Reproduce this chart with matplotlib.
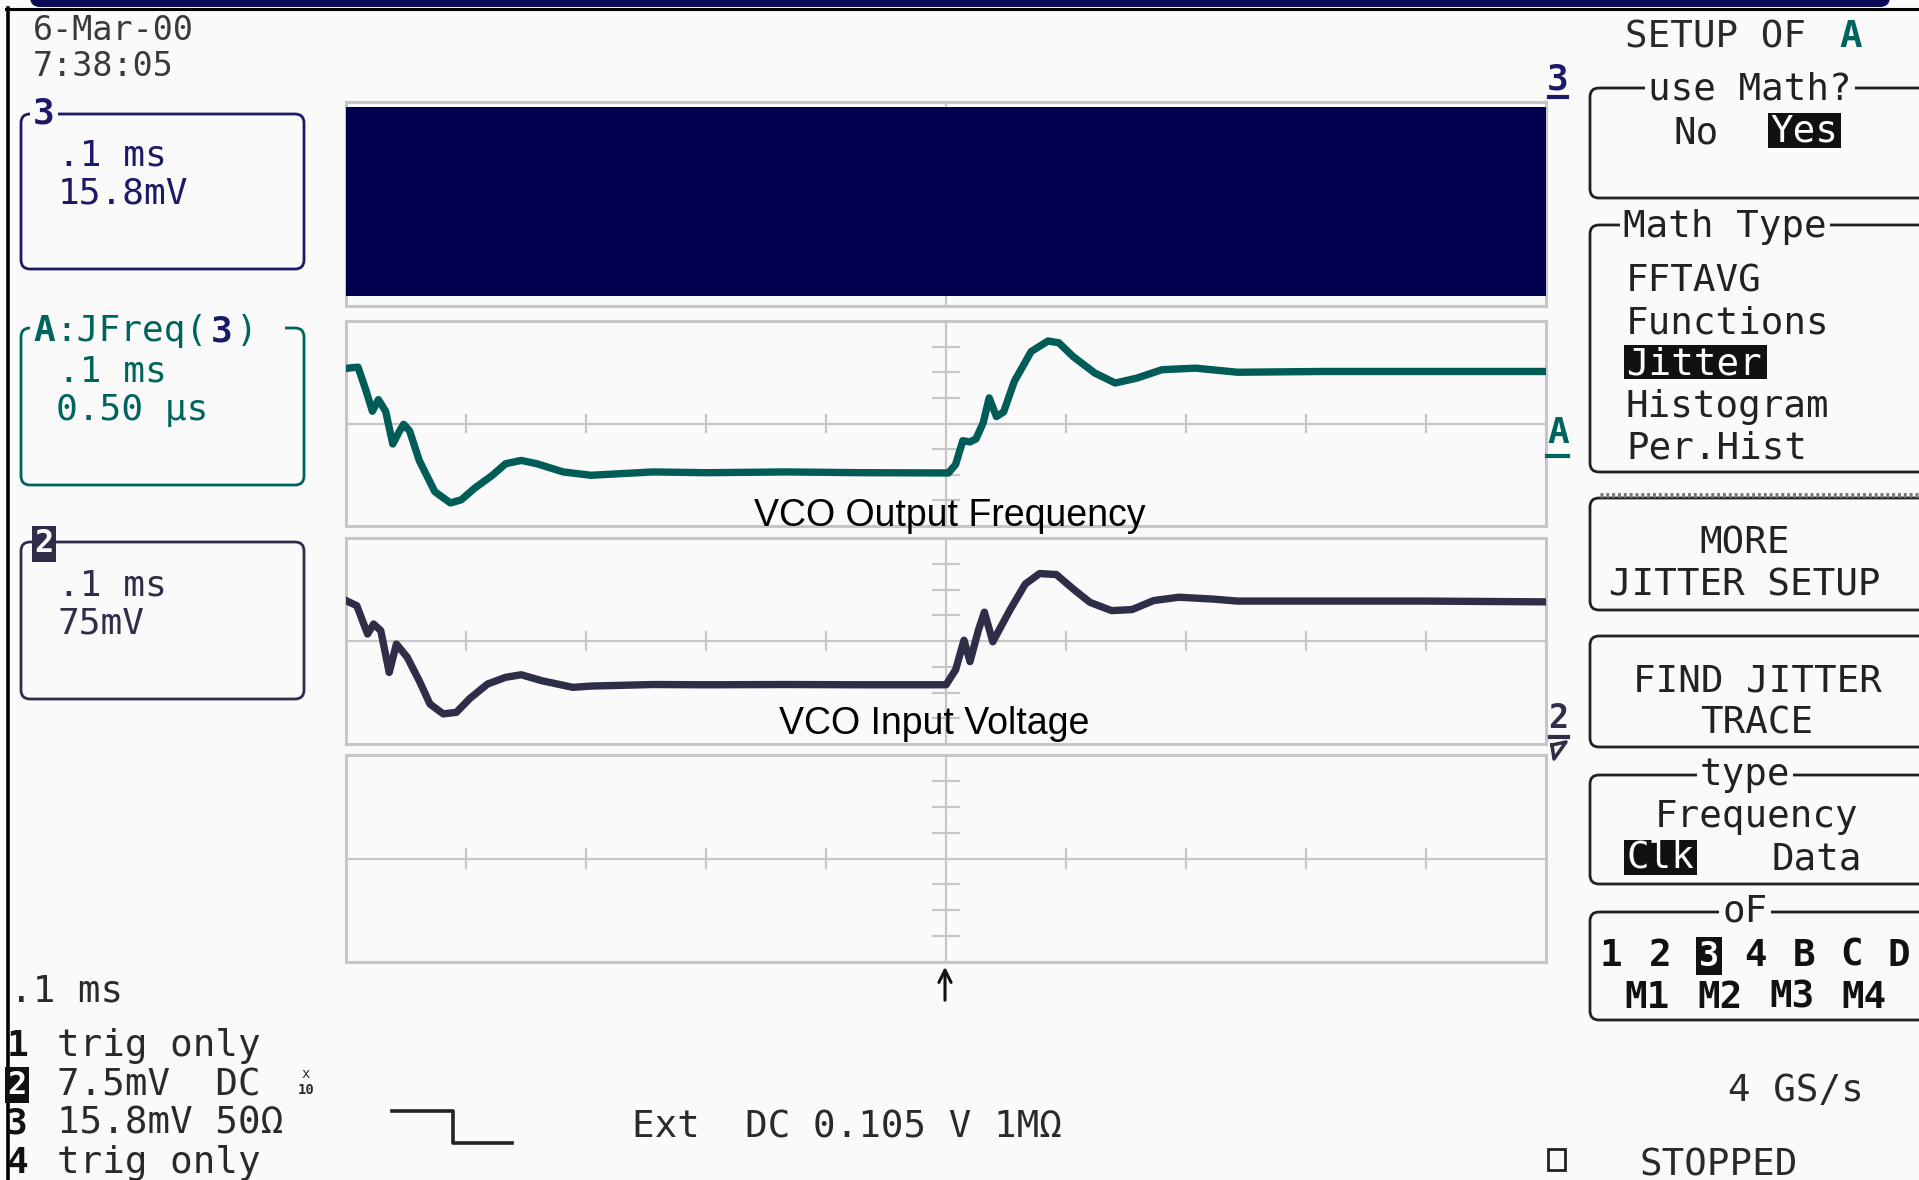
import matplotlib
matplotlib.use('Agg')
import matplotlib.pyplot as plt
from matplotlib.patches import FancyBboxPatch, Rectangle

# ---------------- data (screen divisions: x 0..10, y -4..4) ----------------
band_x = [0.0, 10.0]
band_top = [3.8, 3.8]
band_bottom = [-3.6, -3.6]

freq_x = [0.0, 0.1, 0.16, 0.22, 0.27, 0.33, 0.39, 0.44, 0.48, 0.53, 0.61, 0.74,
          0.87, 0.96, 1.07, 1.22, 1.33, 1.46, 1.59, 1.81, 2.04, 2.56, 3.0, 3.67,
          4.3, 5.02, 5.08, 5.14, 5.2, 5.25, 5.31, 5.36, 5.42, 5.48, 5.57, 5.71,
          5.85, 5.94, 6.06, 6.24, 6.41, 6.59, 6.8, 7.08, 7.43, 8.13, 9.0, 9.97]
freq_y = [2.15, 2.2, 1.38, 0.48, 0.93, 0.48, -0.8, -0.35, -0.03, -0.29, -1.44,
          -2.66, -3.1, -2.98, -2.53, -2.02, -1.57, -1.44, -1.57, -1.89, -2.02,
          -1.89, -1.92, -1.89, -1.92, -1.93, -1.6, -0.67, -0.72, -0.6, 0.03, 1.0,
          0.27, 0.45, 1.65, 2.81, 3.22, 3.15, 2.61, 1.97, 1.58, 1.77, 2.1, 2.16,
          2.0, 2.03, 2.03, 2.03]

volt_x = [0.0, 0.09, 0.18, 0.23, 0.29, 0.36, 0.42, 0.51, 0.61, 0.70, 0.81, 0.92,
          1.03, 1.18, 1.33, 1.46, 1.63, 1.89, 2.04, 2.56, 3.0, 3.67, 4.3, 5.0,
          5.08, 5.15, 5.2, 5.27, 5.32, 5.39, 5.53, 5.66, 5.78, 5.92, 6.06, 6.2,
          6.38, 6.55, 6.73, 6.94, 7.22, 7.43, 8.13, 9.0, 9.99]
volt_y = [1.57, 1.37, 0.27, 0.66, 0.4, -1.22, -0.12, -0.63, -1.54, -2.45, -2.83,
          -2.77, -2.24, -1.67, -1.41, -1.31, -1.54, -1.8, -1.75, -1.69, -1.7,
          -1.69, -1.7, -1.7, -1.12, 0.03, -0.8, 0.42, 1.12, -0.03, 1.18, 2.21,
          2.62, 2.58, 2.02, 1.5, 1.18, 1.22, 1.57, 1.7, 1.63, 1.55, 1.55, 1.55, 1.52]

h_ticks = [1, 2, 3, 4, 6, 7, 8, 9]
v_ticks = [-3, -2, -1, 1, 2, 3]

menu_math_type = ['FFTAVG', 'Functions', 'Jitter', 'Histogram', 'Per.Hist']
source_row1 = ['1', '2', '3', '4', 'B', 'C', 'D']
source_row2 = ['M1', 'M2', 'M3', 'M4']
channel_lines = [('1', 'trig only'), ('2', '7.5mV  DC'), ('3', '15.8mV 50Ω'), ('4', 'trig only')]

# ---------------- style ----------------
W, H = 1919, 1180
BG = '#fafafa'
GRID = '#c6c6c6'
NAVY = '#1a1a66'
TEAL = '#00645e'
TEAL_TRACE = '#005c57'
SLATE = '#2e2e48'
BAND = '#00004f'
INK = '#222222'
MONO = 'DejaVu Sans Mono'
SANS = 'Liberation Sans'
MS = 27   # menu / status font size
BS = 26   # left box font size
DY = 3    # vertical text nudge (px)

fig = plt.figure(figsize=(W / 100, H / 100), dpi=100)
fig.patch.set_facecolor(BG)


def panel(y0, y1, x0=346, x1=1546):
    ax = fig.add_axes([x0 / W, 1 - y1 / H, (x1 - x0) / W, (y1 - y0) / H])
    ax.set_xlim(0, 10)
    ax.set_ylim(-4, 4)
    ax.set_facecolor(BG)
    for s in ax.spines.values():
        s.set_color(GRID)
        s.set_linewidth(2.2)
    ax.set_xticks([])
    ax.set_yticks([])
    ax.axhline(0, color=GRID, lw=1.6, zorder=1)
    ax.axvline(5, color=GRID, lw=1.6, zorder=1)
    for t in h_ticks:
        ax.plot([t, t], [-0.35, 0.35], color=GRID, lw=1.6, zorder=1)
    for t in v_ticks:
        ax.plot([4.89, 5.11], [t, t], color=GRID, lw=1.6, zorder=1)
    return ax


ax1 = panel(102, 306)
ax1.fill_between(band_x, band_bottom, band_top, color=BAND, zorder=3, lw=0)
ax2 = panel(321, 526)
ax2.plot(freq_x, freq_y, color=TEAL_TRACE, lw=5.3, solid_joinstyle='round', zorder=3)
ax3 = panel(538, 744)
ax3.plot(volt_x, volt_y, color=SLATE, lw=5.3, solid_joinstyle='round', zorder=3)
ax4 = panel(755, 962)

# ---------------- overlay in pixel coordinates ----------------
ov = fig.add_axes([0, 0, 1, 1], zorder=10)
ov.set_xlim(0, W)
ov.set_ylim(H, 0)
ov.axis('off')
ov.patch.set_alpha(0)


def T(x, y, s, size=MS, color=INK, weight='normal', ha='left', family=MONO, bg=None):
    kw = {}
    if bg is not None:
        kw['bbox'] = dict(boxstyle='square,pad=0.08', fc=bg, ec='none')
    return ov.text(x, y + DY, s, fontsize=size, color=color, fontweight=weight, ha=ha,
                   va='center', family=family, **kw)


def rbox(x0, y0, x1, y1, ec=INK, lw=2.0, r=9):
    ov.add_patch(FancyBboxPatch((x0, y0), x1 - x0, y1 - y0,
                                boxstyle='round,pad=0,rounding_size=%d' % r,
                                fc='none', ec=ec, lw=lw))


# top frame bar and left frame line
ov.add_patch(FancyBboxPatch((30, -10), 1860, 17, boxstyle='round,pad=0,rounding_size=10',
                            fc='#0b0b55', ec='none'))
ov.plot([6, 1919], [8.5, 8.5], color='black', lw=2.2)
ov.plot([7.5, 7.5], [8, 1180], color='black', lw=2.6)

# date/time
T(33, 27, '6-Mar-00', size=24, color='#3a3a3a')
T(33, 64, '7:38:05', size=24, color='#3a3a3a')

# channel 3 box
rbox(21, 114, 304, 269, ec=NAVY)
T(44, 111, '3', size=26, color=NAVY, weight='bold', ha='center', bg=BG)
T(58, 153, '.1 ms', size=BS, color=NAVY)
T(58, 191, '15.8mV', size=BS, color=NAVY)

# math A box
rbox(21, 328, 304, 485, ec=TEAL)
ov.add_patch(Rectangle((30, 314), 255, 28, fc=BG, ec='none'))
T(33, 328, 'A', size=BS, color=TEAL, weight='bold')
T(55, 328, ':JFreq(', size=BS, color=TEAL)
T(211, 328, '3', size=BS, color=NAVY, weight='bold')
T(236, 328, ')', size=BS, color=TEAL)
T(58, 369, '.1 ms', size=BS, color=TEAL)
T(56, 407, '0.50 µs', size=BS, color=TEAL)

# channel 2 box
rbox(21, 542, 304, 699, ec=SLATE)
T(44, 541, '2', size=23, color='white', weight='bold', ha='center', bg=SLATE)
T(58, 582, '.1 ms', size=BS, color=SLATE)
T(58, 620, '75mV', size=BS, color=SLATE)

# bottom-left status
T(10, 988, '.1 ms', size=MS, color='#2a2a2a')
for i, (num, txt) in enumerate(channel_lines):
    y = 1043 + i * 39
    if num == '2':
        T(17, y, num, size=23, color='white', weight='bold', ha='center', bg='#111111')
    else:
        T(17, y, num, size=26, color='#111111', weight='bold', ha='center')
    T(57, y, txt, size=MS, color='#2a2a2a')
T(306, 1071, 'x', size=10, color='#2a2a2a', ha='center')
T(306, 1087, '10', size=10, color='#2a2a2a', ha='center', weight='bold')

# trigger slope symbol and trigger text
ov.plot([392, 453, 453, 512], [1111, 1111, 1143, 1143], color='#222222', lw=2.6)
T(632, 1125, 'Ext  DC 0.105 V 1MΩ', size=MS, color='#2a2a2a')

# trigger arrow under the grid
ov.annotate('', xy=(945, 964), xytext=(945, 1003),
            arrowprops=dict(arrowstyle='->', color='#111111', lw=2.2, mutation_scale=22))

# waveform labels
T(950, 513, 'VCO Output Frequency', size=27, color='black', ha='center', family=SANS)
T(934, 721, 'VCO Input Voltage', size=27, color='black', ha='center', family=SANS)

# right-edge trace markers
T(1558, 76, '3', size=26, color=NAVY, weight='bold', ha='center')
ov.plot([1549, 1567], [97, 97], color=NAVY, lw=3)
T(1558, 430, 'A', size=26, color=TEAL, weight='bold', ha='center')
ov.plot([1547, 1568], [456, 456], color=TEAL, lw=3)
T(1558, 716, '2', size=24, color=SLATE, weight='bold', ha='center')
ov.plot([1550, 1568], [737, 737], color=SLATE, lw=3)
ov.plot([1552, 1566, 1554, 1552], [745, 742, 759, 745], color=SLATE, lw=2.5)

# right menu
T(1625, 34, 'SETUP OF', size=MS, color='#2a2a2a')
T(1851, 34, 'A', size=MS, color=TEAL, weight='bold', ha='center')

rbox(1590, 88, 1935, 198)
T(1750, 86, 'use Math?', size=MS, ha='center', bg=BG)
T(1696, 130, 'No', size=MS, ha='center')
ov.add_patch(Rectangle((1768, 113), 73, 35, fc='#111111', ec='none'))
T(1804, 129, 'Yes', size=MS, color='white', ha='center')

rbox(1590, 225, 1935, 472)
T(1623, 224, 'Math Type', size=MS, bg=BG)
for i, item in enumerate(menu_math_type):
    y = 279 + i * 41.6
    if item == 'Jitter':
        ov.add_patch(Rectangle((1624, 345), 143, 34, fc='#111111', ec='none'))
        T(1626, y - 1, item, size=MS, color='white')
    else:
        T(1626, y, item, size=MS)

ov.plot([1600, 1919], [495, 495], color='#777777', lw=3.5, ls=(0, (0.6, 0.6)))
rbox(1590, 498, 1935, 610)
T(1745, 541, 'MORE', size=MS, ha='center')
T(1745, 583, 'JITTER SETUP', size=MS, ha='center')

rbox(1590, 636, 1935, 747)
T(1757, 678, 'FIND JITTER', size=MS, ha='center')
T(1757, 720, 'TRACE', size=MS, ha='center')

rbox(1590, 775, 1935, 884)
T(1745, 772, 'type', size=MS, ha='center', bg=BG)
T(1757, 814, 'Frequency', size=MS, ha='center')
ov.add_patch(Rectangle((1624, 840), 73, 35, fc='#111111', ec='none'))
T(1660, 855, 'Clk', size=MS, color='white', ha='center')
T(1817, 857, 'Data', size=MS, ha='center')

rbox(1590, 912, 1935, 1020)
T(1745, 909, 'oF', size=MS, ha='center', bg=BG)
row1_x = [1611, 1660, 1709, 1756, 1804, 1852, 1899]
for sx, s in zip(row1_x, source_row1):
    if s == '3':
        T(sx, 953, s, size=24, color='white', weight='bold', ha='center', bg='#111111')
    else:
        T(sx, 953, s, size=27, color='#111111', weight='bold', ha='center')
row2_x = [1647, 1720, 1792, 1864]
for sx, s in zip(row2_x, source_row2):
    T(sx, 995, s, size=27, color='#111111', weight='bold', ha='center')

T(1864, 1088, '4 GS/s', size=MS, color='#2a2a2a', ha='right')
ov.add_patch(Rectangle((1548, 1149), 17, 21, fc='none', ec='#222222', lw=2))
T(1640, 1162, 'STOPPED', size=MS, color='#2a2a2a')

fig.savefig('out.png', dpi=100, facecolor=BG)
